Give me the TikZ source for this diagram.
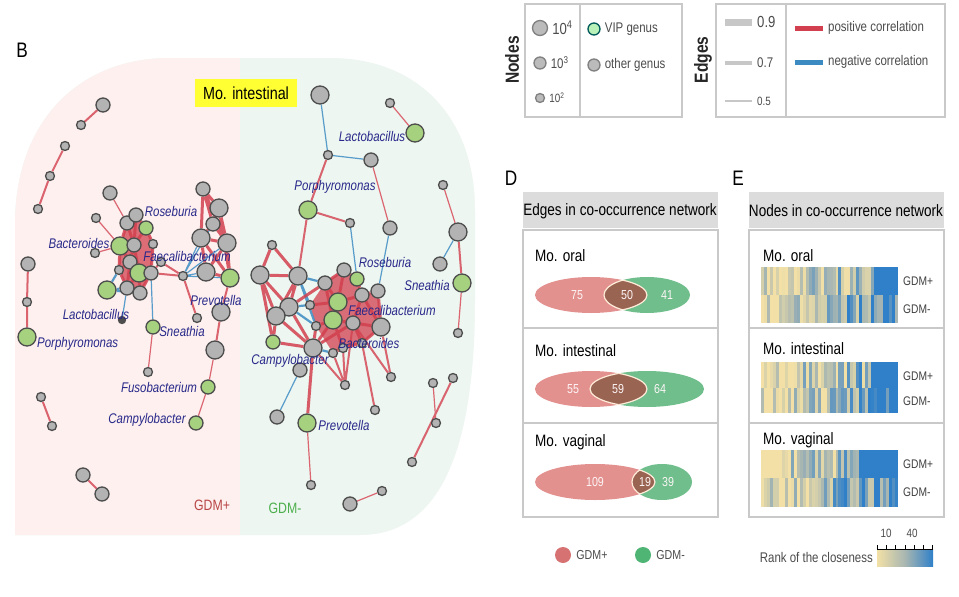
\documentclass[tikz,border=0pt]{standalone}
\usepackage{fontspec}
\setmainfont{Liberation Sans}[FakeStretch=0.82]
\usetikzlibrary{positioning}

\definecolor{nodegray}{HTML}{B3B3B3}
\definecolor{nodeedge}{HTML}{4D4D4D}
\definecolor{vipgreen}{HTML}{A6D27F}
\definecolor{posred}{HTML}{D2404F}
\definecolor{negblue}{HTML}{3B8BC2}
\definecolor{labnavy}{HTML}{28288A}
\definecolor{pinkbg}{HTML}{FDF0EE}
\definecolor{greenbg}{HTML}{EDF6F0}
\definecolor{tagyellow}{HTML}{FFFF33}
\definecolor{boxline}{HTML}{C9C9C9}
\definecolor{headgray}{HTML}{DCDCDC}
\definecolor{vennpink}{HTML}{E3918F}
\definecolor{venngreen}{HTML}{6FBE8C}
\definecolor{vennbrown}{HTML}{9A6453}
\definecolor{legpink}{HTML}{D77272}
\definecolor{leggreen}{HTML}{4FB574}
\definecolor{hlow}{HTML}{F2E0A6}
\definecolor{hmid}{HTML}{A8B6B2}
\definecolor{hhigh}{HTML}{2F80C8}

\pgfdeclarelayer{back}
\pgfdeclarelayer{edges}
\pgfsetlayers{back,edges,main}

\tikzset{
  gn/.style={circle, draw=nodeedge, fill=nodegray, line width=1.3pt, inner sep=0pt},
  vn/.style={gn, fill=vipgreen},
  nb/.style={minimum size=18pt},
  nm/.style={minimum size=14pt},
  ns/.style={minimum size=9pt},
  pe/.style={draw=posred, line width=3pt, opacity=.85},
  pm/.style={draw=posred, line width=2pt, opacity=.8},
  pt/.style={draw=posred!80!white, line width=1.2pt},
  ne/.style={draw=negblue, line width=2.2pt, opacity=.85},
  nt/.style={draw=negblue!85!white, line width=1.2pt},
  lab/.style={font=\fontsize{14}{14}\selectfont\itshape, text=labnavy, inner sep=0pt},
  ttl/.style={font=\fontsize{16.5}{16.5}\selectfont, inner sep=0pt},
  letter/.style={font=\fontsize{21}{21}\selectfont, inner sep=0pt},
  vnum/.style={font=\fontsize{13}{13}\selectfont, text=white!92!vennpink, inner sep=0pt},
  rowlab/.style={font=\fontsize{12.5}{12.5}\selectfont, text=black!75, anchor=west, inner sep=0pt},
  legtext/.style={font=\fontsize{14}{14}\selectfont, text=black!70, inner sep=0pt},
  panelbox/.style={draw=boxline, line width=1.5pt},
  lensline/.style={draw=white!85!orange, line width=1.2pt}
}

% one row of the closeness heat map
\newcommand\heatrow[4]{%
  \foreach \i in {0,...,45}{%
    \pgfmathtruncatemacro\hv{min(100,max(0,\i*#4+rnd*100-45))}%
    \ifnum\i>#3\relax \def\hv{100}\fi
    \ifnum\hv<50 \pgfmathtruncatemacro\hp{2*\hv}\colorlet{hc}{hmid!\hp!hlow}%
    \else \pgfmathtruncatemacro\hp{2*\hv-100}\colorlet{hc}{hhigh!\hp!hmid}\fi
    \fill[hc] (761+\i*2.98,#1) rectangle (761+\i*2.98+3.1,#2);
  }}

% venn of the shared edges
\newcommand\venn[5]{%
  \fill[vennpink] (#1,#5) ellipse [x radius=#2pt, y radius=18pt];
  \fill[venngreen] (#3,#5) ellipse [x radius=#4pt, y radius=18pt];
  \begin{scope}
    \clip (#1,#5) ellipse [x radius=#2pt, y radius=18pt];
    \fill[vennbrown] (#3,#5) ellipse [x radius=#4pt, y radius=18pt];
    \draw[lensline] (#3,#5) ellipse [x radius=#4pt, y radius=18pt];
  \end{scope}
  \begin{scope}
    \clip (#3,#5) ellipse [x radius=#4pt, y radius=18pt];
    \draw[lensline] (#1,#5) ellipse [x radius=#2pt, y radius=18pt];
  \end{scope}}

\begin{document}
\begin{tikzpicture}[x=1pt, y=-1pt]
  \useasboundingbox (0,0) rectangle (959,597);
  \pgfmathsetseed{11}

  % ---------- B: network ----------
  \begin{pgfonlayer}{back}
    \fill[white] (0,0) rectangle (959,597);
    \path[save path=\netblob] (15,535) -- (15,225) .. controls (15,120) and (80,58) .. (170,58)
      -- (330,58) .. controls (420,58) and (475,120) .. (475,210)
      -- (475,300) .. controls (475,450) and (440,535) .. (360,535) -- cycle;
    \fill[greenbg, use path=\netblob];
    \begin{scope}
      \clip[use path=\netblob];
      \fill[pinkbg] (0,0) rectangle (240,597);
    \end{scope}
  \end{pgfonlayer}

  \node[letter] (B) at (22,50) {B};
  \node[ttl, font=\fontsize{17.5}{17.5}\selectfont, fill=tagyellow, minimum width=102pt, minimum height=28pt] (tag) at (246,93) {Mo. intestinal};
  \node[font=\fontsize{15}{15}\selectfont, text=red!45!gray] (gplus) at (212,505) {GDM+};
  \node[font=\fontsize{15}{15}\selectfont, text=green!55!black!70] (gminus) at (285,508) {GDM-};

  % left net (GDM+)
  \node[gn,nm] (L1) at (103,105) {};
  \node[gn,ns] (L2) at (81,125) {};
  \node[gn,ns] (L3) at (65,146) {};
  \node[gn,ns] (L4) at (50,176) {};
  \node[gn,ns] (L5) at (38,209) {};
  \node[gn,nm] (L6) at (28,264) {};
  \node[gn,ns] (L7) at (27,302) {};
  \node[vn,nb] (Lpor) at (27,337) {};
  \node[gn,ns] (L8) at (41,397) {};
  \node[gn,ns] (L9) at (52,426) {};
  \node[gn,nm] (L10) at (83,475) {};
  \node[gn,nm] (L11) at (102,494) {};

  \node[gn,nm] (La1) at (110,193) {};
  \node[gn,ns] (La2) at (96,218) {};
  \node[gn,nm] (La3) at (127,223) {};
  \node[gn,nm] (La4) at (136,215) {};
  \node[vn,nm] (La5) at (146,228) {};
  \node[vn,nb] (Lbac) at (120,246) {};
  \node[gn,nm] (La6) at (134,245) {};
  \node[gn,ns] (La7) at (153,244) {};
  \node[gn,nm] (La8) at (130,262) {};
  \node[vn,nb] (La9) at (139,273) {};
  \node[gn,nm] (La10) at (151,273) {};
  \node[gn,ns] (La11) at (119,270) {};
  \node[gn,nm] (La12) at (127,288) {};
  \node[gn,nm] (La13) at (140,293) {};
  \node[gn,ns] (La14) at (95,253) {};
  \node[vn,nb] (Llac) at (107,290) {};
  \node[gn,ns] (La15) at (161,262) {};
  \node[gn,ns, minimum size=7pt, fill=nodeedge] (La16) at (122,320) {};

  \node[gn,nm] (Lb1) at (203,189) {};
  \node[gn,nb] (Lb2) at (219,208) {};
  \node[gn,nm] (Lb3) at (213,224) {};
  \node[gn,nb] (Lb4) at (201,238) {};
  \node[gn,nb] (Lb5) at (227,243) {};
  \node[gn,nb] (Lb6) at (206,272) {};
  \node[vn,nb] (Lb7) at (230,278) {};
  \node[gn,ns] (Lhub) at (183,276) {};
  \node[gn,nb] (Lprev) at (221,312) {};
  \node[gn,ns] (Lb8) at (197,318) {};
  \node[gn,nb] (Lb9) at (215,350) {};
  \node[vn,nm] (Lfus) at (208,387) {};
  \node[vn,nm] (Lcam) at (196,423) {};
  \node[vn,nm] (Lsne) at (153,327) {};
  \node[gn,ns] (Lb10) at (148,372) {};

  % right net (GDM-)
  \node[gn,nb] (R1) at (320,95) {};
  \node[gn,ns] (R2) at (328,155) {};
  \node[gn,nm] (R3) at (371,160) {};
  \node[vn,nb] (Rpor) at (308,210) {};
  \node[gn,ns] (R4) at (390,103) {};
  \node[vn,nb] (Rlac) at (415,133) {};
  \node[gn,nm] (R5) at (390,228) {};
  \node[gn,nm] (R6) at (378,291) {};
  \node[gn,ns] (R7) at (350,223) {};
  \node[vn,nm] (Rros) at (357,279) {};
  \node[gn,ns] (R8) at (443,185) {};
  \node[gn,nb] (R9) at (458,232) {};
  \node[gn,nm] (R10) at (440,264) {};
  \node[vn,nb] (Rsne) at (462,283) {};
  \node[gn,ns] (R11) at (458,333) {};
  \node[gn,ns] (R12) at (433,383) {};
  \node[gn,ns] (R13) at (453,378) {};
  \node[gn,ns] (R14) at (436,423) {};
  \node[gn,ns] (R15) at (412,462) {};
  \node[gn,ns] (R16) at (382,491) {};
  \node[gn,nm] (R17) at (350,504) {};
  \node[vn,nb] (Rprev) at (307,423) {};
  \node[gn,ns] (R18) at (311,485) {};
  \node[gn,nm] (R19) at (277,417) {};
  \node[gn,ns] (Rc1) at (272,245) {};
  \node[gn,nb] (Rc2) at (260,275) {};
  \node[gn,nb] (Rc3) at (298,276) {};
  \node[gn,nb] (Rc4) at (289,307) {};
  \node[gn,nb] (Rc5) at (276,316) {};
  \node[vn,nm] (Rcam) at (273,342) {};
  \node[gn,nb] (Rc6) at (313,348) {};
  \node[gn,nm] (Rc7) at (300,370) {};
  \node[gn,nm] (Rc8) at (325,283) {};
  \node[gn,nm] (Rc9) at (344,270) {};
  \node[vn,nb] (Rc10) at (338,302) {};
  \node[vn,nb] (Rfae) at (333,320) {};
  \node[gn,nm] (Rc11) at (362,295) {};
  \node[gn,nm] (Rc13) at (353,323) {};
  \node[gn,nb] (Rc14) at (381,327) {};
  \node[gn,ns] (Rc15) at (316,326) {};
  \node[gn,ns] (Rc16) at (310,305) {};
  \node[gn,ns] (Rc17) at (333,353) {};
  \node[gn,ns] (Rc18) at (343,348) {};
  \node[gn,ns] (Rc19) at (362,343) {};
  \node[gn,ns] (R20) at (391,377) {};
  \node[gn,ns] (R21) at (345,385) {};
  \node[gn,ns] (R22) at (375,410) {};

  \begin{pgfonlayer}{edges}
    % dense cores
    \fill[posred, opacity=.75] (La4.center) -- (La5.center) -- (La7.center) -- (La10.center)
      -- (La13.center) -- (La12.center) -- (La11.center) -- (Lbac.center) -- (La3.center) -- cycle;
    \fill[posred, opacity=.75] (Rc8.center) -- (Rc9.center) -- (Rros.center) -- (Rc11.center)
      -- (R6.center) -- (Rc14.center) -- (Rc19.center) -- (Rc18.center) -- (Rc17.center)
      -- (Rc15.center) -- (Rc16.center) -- cycle;

    \draw[pm] (L1) -- (L2) (L3) -- (L4) (L4) -- (L5) (L6) -- (L7) (L7) -- (Lpor)
      (L8) -- (L9) (L10) -- (L11);
    \draw[pt] (La1) -- (La3) (La2) -- (Lbac) (La14) -- (Lbac) (Lb9) -- (Lfus)
      (Lfus) -- (Lcam) (Lsne) -- (Lb10);
    \draw[pe] (La3) -- (La4) (La4) -- (La5) (La3) -- (Lbac) (La3) -- (La6) (La4) -- (La6)
      (La5) -- (La6) (Lbac) -- (La6) (Lbac) -- (La8) (La6) -- (La8) (La6) -- (La9)
      (La8) -- (La9) (La9) -- (La10) (La9) -- (La12) (La10) -- (La13) (La12) -- (La13)
      (La11) -- (La12) (La8) -- (La11) (La9) -- (La13) (La5) -- (La7) (La7) -- (La10)
      (Lbac) -- (La11) (La8) -- (La12);
    \draw[pm] (La10) -- (Lhub) (La15) -- (Lhub) (La10) -- (La15) (Lhub) -- (Lb8)
      (Lb7) -- (Lprev) (Lprev) -- (Lb9);
    \draw[pe] (Lb1) -- (Lb2) (Lb1) -- (Lb3) (Lb1) -- (Lb4) (Lb2) -- (Lb3) (Lb2) -- (Lb5)
      (Lb3) -- (Lb4) (Lb3) -- (Lb5) (Lb4) -- (Lb5) (Lb4) -- (Lb6) (Lb5) -- (Lb6)
      (Lb5) -- (Lb7) (Lb6) -- (Lb7) (Lb2) -- (Lb7) (Lb4) -- (Lb7) (Lb1) -- (Lb5);
    \draw[ne] (Llac) -- (La12) (Llac) -- (La11) (Llac) -- (La13);
    \draw[nt] (La16) -- (La12) (La10) -- (Lsne) (Lhub) -- (Lb4) (Lhub) -- (Lb6)
      (Lhub) -- (Lb7) (Lhub) -- (Lb5) (Lhub) -- (Lb3);

    \draw[nt] (R1) -- (R2) (R2) -- (R3) (R5) -- (R6) (R7) -- (Rros) (R9) -- (R10)
      (R19) -- (Rc7);
    \draw[pm] (R2) -- (Rpor) (Rpor) -- (R7) (Rpor) -- (Rc3) (R9) -- (Rsne) (R13) -- (R15);
    \draw[pt] (R4) -- (Rlac) (R3) -- (R5) (R8) -- (R9) (Rsne) -- (R11) (R12) -- (R14)
      (R16) -- (R17) (Rprev) -- (R18);
    \draw[pe] (Rc6) -- (Rprev) (Rc1) -- (Rc2) (Rc1) -- (Rc3) (Rc2) -- (Rc3) (Rc2) -- (Rc4)
      (Rc2) -- (Rc5) (Rc3) -- (Rc4) (Rc3) -- (Rc5) (Rc4) -- (Rc5) (Rc5) -- (Rcam)
      (Rcam) -- (Rc6) (Rc4) -- (Rc6) (Rc5) -- (Rc6) (Rc2) -- (Rcam);
    \draw[ne] (Rc3) -- (Rc8) (Rc3) -- (Rc16) (Rc3) -- (Rc15) (Rc4) -- (Rc16)
      (Rc6) -- (Rc17) (Rc4) -- (Rc15);
    \draw[pe] (Rc8) -- (Rc10) (Rc8) -- (Rfae) (Rc9) -- (Rc10) (Rc9) -- (Rros)
      (Rros) -- (Rc11) (Rc10) -- (Rc11) (Rc10) -- (Rfae) (Rfae) -- (Rc13)
      (Rc11) -- (Rc13) (Rc11) -- (R6) (R6) -- (Rc14) (Rc13) -- (Rc14) (Rc11) -- (Rc14)
      (Rfae) -- (Rc14) (Rc15) -- (Rfae) (Rc16) -- (Rc10) (Rc6) -- (Rc15) (Rc6) -- (Rfae)
      (Rc17) -- (Rc18) (Rc18) -- (Rc19) (Rc19) -- (Rc14) (Rc13) -- (Rc19) (Rc6) -- (Rc13)
      (Rfae) -- (Rc18) (Rc9) -- (Rc8) (Rc4) -- (Rc8);
    \draw[pm] (Rc14) -- (R20) (Rc13) -- (R21) (Rc18) -- (R21) (Rc19) -- (R22)
      (Rc6) -- (R21) (Rc13) -- (R20) (Rc17) -- (R21);
  \end{pgfonlayer}

  % genus labels
  \node[lab] (tLros) at (171,211) {Roseburia};
  \node[lab] (tLbac) at (79,243) {Bacteroides};
  \node[lab] (tLfae) at (187,256) {Faecalibacterium};
  \node[lab] (tLlac) at (96,314) {Lactobacillus};
  \node[lab] (tLprev) at (216,300) {Prevotella};
  \node[lab] (tLsne) at (182,331) {Sneathia};
  \node[lab, anchor=west] (tLpor) at (37,344) {Porphyromonas};
  \node[lab] (tLfus) at (159,387) {Fusobacterium};
  \node[lab] (tLcam) at (147,420) {Campylobacter};
  \node[lab] (tRlac) at (372,136) {Lactobacillus};
  \node[lab] (tRpor) at (335,187) {Porphyromonas};
  \node[lab] (tRros) at (385,262) {Roseburia};
  \node[lab] (tRsne) at (427,285) {Sneathia};
  \node[lab] (tRfae) at (392,310) {Faecalibacterium};
  \node[lab] (tRbac) at (369,343) {Bacteroides};
  \node[lab] (tRcam) at (290,361) {Campylobacter};
  \node[lab] (tRprev) at (344,425) {Prevotella};

  % ---------- legends ----------
  \draw[panelbox] (525,4) rectangle (682,117);
  \draw[panelbox] (580,4) -- (580,117);
  \node[font=\fontsize{19}{19}\selectfont\bfseries, text=black!85, rotate=90] (nodestitle) at (512,60) {Nodes};
  \node[gn, draw=gray, fill=nodegray!90, minimum size=15pt] (s4) at (540,28) {};
  \node[gn, draw=gray, fill=nodegray!90, minimum size=12pt] (s3) at (540,63) {};
  \node[gn, draw=gray, fill=nodegray!90, minimum size=9pt] (s2) at (540,98) {};
  \node[legtext, font=\fontsize{16}{16}\selectfont, right=4pt of s4] (t4) {10\textsuperscript{4}};
  \node[legtext, right=4pt of s3] (t3) {10\textsuperscript{3}};
  \node[legtext, font=\fontsize{12}{12}\selectfont, right=4pt of s2] (t2) {10\textsuperscript{2}};
  \node[gn, draw=teal!70!black, fill=green!25!white!90!gray, minimum size=12pt] (svip) at (594,29) {};
  \node[gn, draw=gray, fill=nodegray!90, minimum size=12pt] (soth) at (594,65) {};
  \node[legtext, right=4pt of svip] (tvip) {VIP genus};
  \node[legtext, right=4pt of soth] (toth) {other genus};

  \draw[panelbox] (716,4) rectangle (945,117);
  \draw[panelbox] (786,4) -- (786,117);
  \node[font=\fontsize{19}{19}\selectfont\bfseries, text=black!85, rotate=90] (edgestitle) at (703,60) {Edges};
  \coordinate (w9a) at (725,22); \coordinate (w9b) at (752,22);
  \coordinate (w7a) at (725,63); \coordinate (w7b) at (752,63);
  \coordinate (w5a) at (725,101); \coordinate (w5b) at (752,101);
  \draw[black!22, line width=7pt] (w9a) -- (w9b);
  \draw[black!22, line width=4pt] (w7a) -- (w7b);
  \draw[black!22, line width=2pt] (w5a) -- (w5b);
  \node[legtext, font=\fontsize{16}{16}\selectfont, anchor=west] (t09) at (757,22) {0.9};
  \node[legtext, anchor=west] (t07) at (757,63) {0.7};
  \node[legtext, font=\fontsize{12}{12}\selectfont, anchor=west] (t05) at (757,101) {0.5};
  \coordinate (pa) at (795,28); \coordinate (pb) at (823,28);
  \coordinate (na) at (795,62); \coordinate (nb) at (823,62);
  \draw[posred, line width=5pt] (pa) -- (pb);
  \draw[negblue, line width=5pt] (na) -- (nb);
  \node[legtext, anchor=west] (tpos) at (828,28) {positive correlation};
  \node[legtext, anchor=west] (tneg) at (828,62) {negative correlation};

  % ---------- D: shared edges ----------
  \node[letter] (D) at (511,178) {D};
  \fill[headgray] (523,192) rectangle (718,228);
  \node[ttl] (dhead) at (620,211) {Edges in co-occurrence network};
  \draw[panelbox] (523,230) rectangle (718,328);
  \draw[panelbox] (523,328) rectangle (718,423);
  \draw[panelbox] (523,423) rectangle (718,517);
  \node[ttl, anchor=west] (doral) at (535,256) {Mo. oral};
  \node[ttl, anchor=west] (dint) at (535,351) {Mo. intestinal};
  \node[ttl, anchor=west] (dvag) at (535,442) {Mo. vaginal};
  \venn{591}{56}{647}{43}{295}
  \venn{591}{56}{647}{57}{389}
  \venn{595}{60}{662}{30}{482}
  \node[vnum] (o75) at (577,295) {75};
  \node[vnum] (o50) at (627,295) {50};
  \node[vnum] (o41) at (667,295) {41};
  \node[vnum] (i55) at (573,389) {55};
  \node[vnum] (i59) at (618,389) {59};
  \node[vnum] (i64) at (660,389) {64};
  \node[vnum] (v109) at (595,482) {109};
  \node[vnum] (v19) at (645,482) {19};
  \node[vnum] (v39) at (668,482) {39};
  \node[circle, fill=legpink, minimum size=16pt, inner sep=0pt] (kplus) at (563,555) {};
  \node[circle, fill=leggreen, minimum size=16pt, inner sep=0pt] (kminus) at (643,555) {};
  \node[legtext, font=\fontsize{13}{13}\selectfont, right=5pt of kplus] (tkplus) {GDM+};
  \node[legtext, font=\fontsize{13}{13}\selectfont, right=5pt of kminus] (tkminus) {GDM-};

  % ---------- E: closeness ----------
  \node[letter] (E) at (738,178) {E};
  \fill[headgray] (749,192) rectangle (944,228);
  \node[ttl] (ehead) at (846,211) {Nodes in co-occurrence network};
  \draw[panelbox] (749,230) rectangle (944,328);
  \draw[panelbox] (749,328) rectangle (944,423);
  \draw[panelbox] (749,423) rectangle (944,517);
  \node[ttl, anchor=west] (eoral) at (763,256) {Mo. oral};
  \node[ttl, anchor=west] (eint) at (763,349) {Mo. intestinal};
  \node[ttl, anchor=west] (evag) at (763,440) {Mo. vaginal};
  \heatrow{267}{295}{37}{1.4}
  \heatrow{295}{323}{99}{2.0}
  \heatrow{362}{388}{36}{1.4}
  \heatrow{388}{413}{99}{2.0}
  \heatrow{450}{478}{32}{1.3}
  \heatrow{478}{507}{99}{2.0}
  \node[rowlab] (eo1) at (903,281) {GDM+};
  \node[rowlab] (eo2) at (903,309) {GDM-};
  \node[rowlab] (ei1) at (903,376) {GDM+};
  \node[rowlab] (ei2) at (903,401) {GDM-};
  \node[rowlab] (ev1) at (903,464) {GDM+};
  \node[rowlab] (ev2) at (903,492) {GDM-};
  \shade[left color=hlow, right color=hhigh, middle color=hmid] (877,549) rectangle (933,566);
  \draw[black, line width=.8pt] (877,549) -- (933,549);
  \foreach \k in {0,...,6}
    \draw[black, line width=.8pt] (877+\k*9.3,549) -- (877+\k*9.3,545);
  \node[legtext, font=\fontsize{12}{12}\selectfont] (c10) at (886,533) {10};
  \node[legtext, font=\fontsize{12}{12}\selectfont] (c40) at (912,533) {40};
  \node[legtext, anchor=east] (crank) at (873,557) {Rank of the closeness};
\end{tikzpicture}
\end{document}
